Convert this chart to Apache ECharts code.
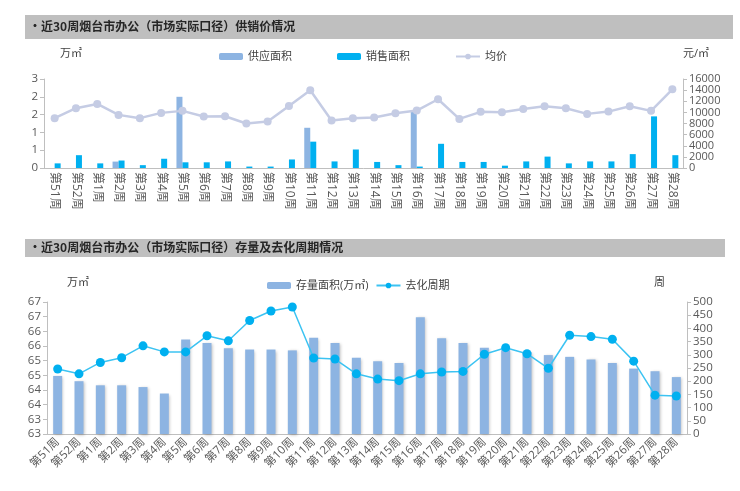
<!DOCTYPE html>
<html>
<head>
<meta charset="utf-8">
<script src="https://cdn.jsdelivr.net/npm/echarts@6/dist/echarts.min.js"></script>
<style>
  html, body { margin: 0; padding: 0; background: #fff; }
  #main { width: 740px; height: 491px; }
</style>
</head>
<body>
<div id="main"></div>
<script>
// 周次
var weeks = ['第51周','第52周','第1周','第2周','第3周','第4周','第5周','第6周','第7周','第8周',
    '第9周','第10周','第11周','第12周','第13周','第14周','第15周','第16周','第17周','第18周',
    '第19周','第20周','第21周','第22周','第23周','第24周','第25周','第26周','第27周','第28周'];

// 供销价 (万㎡, 元/㎡)
var supplyArea = [0, 0, 0, 0.18, 0, 0, 2.0, 0, 0, 0,
    0, 0, 1.13, 0, 0, 0, 0, 1.59, 0, 0,
    0, 0, 0, 0, 0, 0, 0, 0, 0, 0];
var salesArea = [0.13, 0.36, 0.13, 0.21, 0.08, 0.26, 0.16, 0.16, 0.185, 0.04,
    0.04, 0.24, 0.74, 0.185, 0.52, 0.17, 0.08, 0.04, 0.68, 0.17,
    0.17, 0.065, 0.185, 0.32, 0.13, 0.185, 0.185, 0.39, 1.45, 0.36];
var avgPrice = [8960, 10750, 11520, 9550, 8960, 9910, 10270, 9250, 9300, 7990,
    8350, 11160, 13980, 8530, 8960, 9070, 9850, 10320, 12360, 8830,
    10090, 10030, 10620, 11110, 10750, 9730, 10140, 11110, 10270, 14150];

// 存量及去化周期 (万㎡, 周)
var stockArea = [64.98, 64.80, 64.66, 64.66, 64.60, 64.38, 66.22, 66.10, 65.92, 65.88,
    65.88, 65.85, 66.28, 66.10, 65.60, 65.48, 65.42, 66.98, 66.26, 66.10,
    65.94, 65.86, 65.80, 65.69, 65.63, 65.54, 65.42, 65.23, 65.14, 64.94];
var cycleWeeks = [246, 228, 271, 289, 334, 311, 311, 372, 353, 430,
    466, 481, 288, 284, 228, 208, 202, 228, 235, 237,
    302, 327, 304, 249, 374, 369, 359, 276, 147, 144];

var fontFam = "'Open Sans','Noto Sans CJK SC',sans-serif";
var axisGray = '#BFBFBF';
var labelGray = '#595959';

function yAxisBase(){
    return {
        type: 'value',
        splitLine: {show: false},
        axisLine: {show: true, lineStyle: {color: axisGray}},
        axisTick: {show: true, length: 4, lineStyle: {color: axisGray}},
        axisLabel: {color: labelGray, fontSize: 11.5, margin: 6, fontFamily: fontFam,
            showMinLabel: true, showMaxLabel: true, hideOverlap: false,
            formatter: function(v){ return String(v); }},
        nameTextStyle: {color: '#404040', fontSize: 11, fontFamily: fontFam}
    };
}

var y0 = yAxisBase();
y0.gridIndex = 0; y0.min = 0; y0.max = 2.5; y0.interval = 0.5;
y0.axisLabel.formatter = function(v){ return Math.round(v); };
y0.name = '万㎡'; y0.nameGap = 20;
y0.nameTextStyle.align = 'left'; y0.nameTextStyle.padding = [0, 0, 0, 16];

var y1 = yAxisBase();
y1.gridIndex = 0; y1.min = 0; y1.max = 16000; y1.interval = 2000; y1.position = 'right';
y1.axisLabel.fontSize = 11;
y1.name = '元/㎡'; y1.nameGap = 20;
y1.nameTextStyle.align = 'left'; y1.nameTextStyle.padding = [0, 0, 0, 0];

var y2 = yAxisBase();
y2.gridIndex = 1; y2.min = 63; y2.max = 67.5; y2.interval = 0.5;
y2.axisLabel.formatter = function(v){ return Math.floor(v); };
y2.name = '万㎡'; y2.nameGap = 14;
y2.nameTextStyle.align = 'left'; y2.nameTextStyle.padding = [0, 0, 0, 20];

var y3 = yAxisBase();
y3.gridIndex = 1; y3.min = 0; y3.max = 500; y3.interval = 50; y3.position = 'right';
y3.name = '周'; y3.nameGap = 14;
y3.nameTextStyle.align = 'right'; y3.nameTextStyle.padding = [0, 22, 0, 0];

var chart = echarts.init(document.getElementById('main'));
var option = {
    animation: false,
    textStyle: {fontFamily: fontFam},
    graphic: [
        {type: 'rect', shape: {x: 25, y: 15, width: 708, height: 24}, style: {fill: '#BFBFBF'}},
        {type: 'text', left: 29, top: 20, style: {text: '•近30周烟台市办公（市场实际口径）供销价情况',
            font: "bold 12px 'Noto Sans CJK SC'", fill: '#262626'}},
        {type: 'rect', shape: {x: 25, y: 239, width: 700, height: 18}, style: {fill: '#BFBFBF'}},
        {type: 'text', left: 29, top: 241, style: {text: '•近30周烟台市办公（市场实际口径）存量及去化周期情况',
            font: "bold 12px 'Noto Sans CJK SC'", fill: '#262626'}}
    ],
    legend: [
        {
            left: 214, top: 46, itemWidth: 24, itemHeight: 7, itemGap: 45,
            textStyle: {color: '#404040', fontSize: 11, fontFamily: fontFam},
            data: ['供应面积', '销售面积', '均价']
        },
        {
            left: 262, top: 275, itemWidth: 24, itemHeight: 7, itemGap: 7,
            textStyle: {color: '#404040', fontSize: 11, fontFamily: fontFam},
            data: ['存量面积(万㎡)', '去化周期']
        }
    ],
    grid: [
        {left: 44, right: 57, top: 79, height: 89},
        {left: 47, right: 53, top: 302, height: 132}
    ],
    xAxis: [
        {
            type: 'category', gridIndex: 0, data: weeks,
            axisLine: {lineStyle: {color: axisGray}},
            axisTick: {length: 5, lineStyle: {color: axisGray}},
            axisLabel: {interval: 0, rotate: -90, color: labelGray, fontSize: 12, margin: 4, fontFamily: fontFam}
        },
        {
            type: 'category', gridIndex: 1, data: weeks,
            axisLine: {lineStyle: {color: axisGray}},
            axisTick: {length: 5, lineStyle: {color: axisGray}},
            axisLabel: {interval: 0, rotate: 45, color: labelGray, fontSize: 11.5, margin: 6, fontFamily: fontFam}
        }
    ],
    yAxis: [y0, y1, y2, y3],
    series: [
        {
            name: '供应面积', type: 'bar', xAxisIndex: 0, yAxisIndex: 0,
            data: supplyArea, barWidth: 6, barGap: '0%',
            itemStyle: {color: '#8DB4E2'}
        },
        {
            name: '销售面积', type: 'bar', xAxisIndex: 0, yAxisIndex: 0,
            data: salesArea, barWidth: 6, barGap: '0%',
            itemStyle: {color: '#00B0F0'}
        },
        {
            name: '均价', type: 'line', xAxisIndex: 0, yAxisIndex: 1,
            data: avgPrice, symbol: 'circle', symbolSize: 8,
            lineStyle: {color: '#C5CCE4', width: 2.5},
            itemStyle: {color: '#C5CCE4'}
        },
        {
            name: '存量面积(万㎡)', type: 'bar', xAxisIndex: 1, yAxisIndex: 2,
            data: stockArea, barWidth: 9,
            itemStyle: {color: '#8DB4E2', shadowColor: 'rgba(0,0,0,0.25)', shadowBlur: 3, shadowOffsetX: 1, shadowOffsetY: 1}
        },
        {
            name: '去化周期', type: 'line', xAxisIndex: 1, yAxisIndex: 3,
            data: cycleWeeks, symbol: 'circle', symbolSize: 9,
            lineStyle: {color: '#3CC3F2', width: 1.5},
            itemStyle: {color: '#00B0F0'}
        }
    ]
};
chart.setOption(option);
</script>
</body>
</html>
